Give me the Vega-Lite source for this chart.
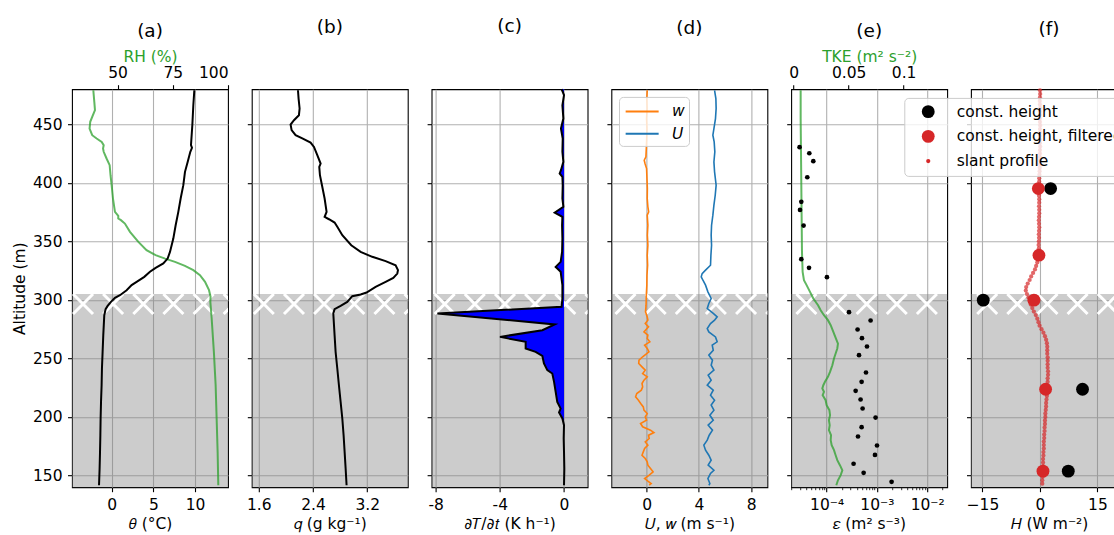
{
  "$schema": "https://vega.github.io/schema/vega-lite/v6.json",
  "background": "white",
  "padding": {"left": 11, "top": 15.2, "right": 0, "bottom": 0},
  "autosize": {"type": "pad"},
  "spacing": 23.8,
  "bounds": "flush",
  "resolve": {"scale": {"color": "independent", "size": "independent"}, "legend": {"color": "independent", "size": "independent"}},
  "config": {
    "font": "DejaVu Sans",
    "view": {"stroke": "black", "strokeWidth": 1.1},
    "axis": {
      "labelFont": "DejaVu Sans", "labelFontSize": 15.5, "labelColor": "black",
      "titleFont": "DejaVu Sans", "titleFontSize": 15.5, "titleFontWeight": "normal", "titleColor": "black",
      "domain": false, "tickColor": "black", "tickSize": 4.5, "tickWidth": 1.1,
      "gridColor": "#b0b0b0", "gridWidth": 1.1, "labelPadding": 5.5
    },
    "axisBottom": {"labelPadding": 6, "titlePadding": 3},
    "axisTop": {"labelPadding": 4, "titlePadding": 1},
    "axisLeft": {"titlePadding": 5},
    "title": {"font": "DejaVu Sans", "fontSize": 18.5, "fontWeight": "normal", "color": "black", "anchor": "middle", "frame": "group", "baseline": "alphabetic"},
    "legend": {"labelFont": "DejaVu Sans", "labelFontSize": 15.5, "labelColor": "black"}
  },
  "datasets": {
    "band": [{"alt": 140, "alt2": 305}],
    "hatch_a": [{"alt": 296.5, "theta": -3.43}, {"alt": 296.5, "theta": 0.18}, {"alt": 296.5, "theta": 3.80}, {"alt": 296.5, "theta": 7.41}, {"alt": 296.5, "theta": 11.03}, {"alt": 296.5, "theta": 14.64}],
    "hatch_b": [{"alt": 296.5, "q": 1.674}, {"alt": 296.5, "q": 2.119}, {"alt": 296.5, "q": 2.563}, {"alt": 296.5, "q": 3.009}, {"alt": 296.5, "q": 3.453}, {"alt": 296.5, "q": 3.897}],
    "hatch_c": [{"alt": 296.5, "dTdt": -7.434}, {"alt": 296.5, "dTdt": -5.558}, {"alt": 296.5, "dTdt": -3.677}, {"alt": 296.5, "dTdt": -1.801}, {"alt": 296.5, "dTdt": 0.080}, {"alt": 296.5, "dTdt": 1.956}],
    "hatch_d": [{"alt": 296.5, "v": -1.612}, {"alt": 296.5, "v": 0.698}, {"alt": 296.5, "v": 2.999}, {"alt": 296.5, "v": 5.302}, {"alt": 296.5, "v": 7.611}, {"alt": 296.5, "v": 9.913}],
    "hatch_e": [{"alt": 296.5, "eps": 3.965e-5}, {"alt": 296.5, "eps": 1.573e-4}, {"alt": 296.5, "eps": 6.268e-4}, {"alt": 296.5, "eps": 2.487e-3}, {"alt": 296.5, "eps": 9.87e-3}],
    "hatch_f": [{"alt": 296.5, "h": -13.77}, {"alt": 296.5, "h": -5.92}, {"alt": 296.5, "h": 1.96}, {"alt": 296.5, "h": 9.81}, {"alt": 296.5, "h": 17.69}],
    "theta": [
      {"alt": 479.1, "theta": 9.92}, {"alt": 466.3, "theta": 9.80}, {"alt": 449.2, "theta": 9.68}, {"alt": 432.2, "theta": 9.52}, {"alt": 429.9, "theta": 9.64}, {"alt": 426.5, "theta": 9.44}, {"alt": 417.9, "theta": 9.12}, {"alt": 409.4, "theta": 8.80}, {"alt": 398.0, "theta": 8.60}, {"alt": 386.6, "theta": 8.28}, {"alt": 375.2, "theta": 8.00}, {"alt": 363.8, "theta": 7.68}, {"alt": 352.4, "theta": 7.40}, {"alt": 341.0, "theta": 7.00}, {"alt": 335.3, "theta": 6.72}, {"alt": 331.1, "theta": 6.20}, {"alt": 327.4, "theta": 5.28}, {"alt": 324.0, "theta": 4.60}, {"alt": 319.7, "theta": 3.92}, {"alt": 315.4, "theta": 3.00}, {"alt": 312.6, "theta": 2.40}, {"alt": 308.3, "theta": 1.80}, {"alt": 304.0, "theta": 1.00}, {"alt": 301.8, "theta": 0.40}, {"alt": 298.3, "theta": -0.08}, {"alt": 294.9, "theta": -0.48}, {"alt": 292.1, "theta": -0.72}, {"alt": 286.9, "theta": -0.88}, {"alt": 269.9, "theta": -1.00}, {"alt": 255.6, "theta": -1.08}, {"alt": 241.4, "theta": -1.16}, {"alt": 227.1, "theta": -1.20}, {"alt": 212.9, "theta": -1.27}, {"alt": 198.7, "theta": -1.32}, {"alt": 184.4, "theta": -1.35}, {"alt": 170.2, "theta": -1.39}, {"alt": 155.9, "theta": -1.44}, {"alt": 141.7, "theta": -1.51}
    ],
    "rh": [
      {"alt": 479.1, "rh": 39.0}, {"alt": 469.2, "rh": 39.45}, {"alt": 462.1, "rh": 39.75}, {"alt": 456.4, "rh": 38.5}, {"alt": 452.1, "rh": 37.6}, {"alt": 446.4, "rh": 37.3}, {"alt": 440.7, "rh": 38.5}, {"alt": 437.9, "rh": 40.5}, {"alt": 435.0, "rh": 42.8}, {"alt": 432.2, "rh": 43.7}, {"alt": 429.3, "rh": 43.4}, {"alt": 426.5, "rh": 43.7}, {"alt": 420.8, "rh": 45.0}, {"alt": 415.1, "rh": 46.4}, {"alt": 406.5, "rh": 46.8}, {"alt": 398.0, "rh": 47.3}, {"alt": 386.6, "rh": 47.9}, {"alt": 375.2, "rh": 48.8}, {"alt": 371.8, "rh": 50.3}, {"alt": 369.5, "rh": 50.3}, {"alt": 368.1, "rh": 51.5}, {"alt": 365.2, "rh": 53.3}, {"alt": 358.1, "rh": 55.6}, {"alt": 349.6, "rh": 59.4}, {"alt": 342.5, "rh": 63.1}, {"alt": 338.2, "rh": 67.2}, {"alt": 335.3, "rh": 71.5}, {"alt": 332.5, "rh": 76.0}, {"alt": 329.1, "rh": 80.5}, {"alt": 325.4, "rh": 84.3}, {"alt": 321.1, "rh": 87.3}, {"alt": 315.4, "rh": 89.6}, {"alt": 308.3, "rh": 91.4}, {"alt": 302.6, "rh": 92.1}, {"alt": 298.3, "rh": 92.0}, {"alt": 284.1, "rh": 92.6}, {"alt": 255.6, "rh": 93.6}, {"alt": 227.1, "rh": 94.4}, {"alt": 198.7, "rh": 94.85}, {"alt": 170.2, "rh": 95.3}, {"alt": 141.7, "rh": 95.6}
    ],
    "q": [
      {"alt": 479.1, "q": 2.178}, {"alt": 472.0, "q": 2.187}, {"alt": 463.5, "q": 2.202}, {"alt": 457.8, "q": 2.192}, {"alt": 453.5, "q": 2.119}, {"alt": 449.8, "q": 2.069}, {"alt": 445.0, "q": 2.084}, {"alt": 440.7, "q": 2.143}, {"alt": 437.9, "q": 2.242}, {"alt": 434.4, "q": 2.364}, {"alt": 430.7, "q": 2.414}, {"alt": 423.6, "q": 2.463}, {"alt": 416.5, "q": 2.512}, {"alt": 413.7, "q": 2.492}, {"alt": 406.5, "q": 2.502}, {"alt": 398.0, "q": 2.532}, {"alt": 386.6, "q": 2.571}, {"alt": 375.2, "q": 2.600}, {"alt": 370.9, "q": 2.571}, {"alt": 368.9, "q": 2.635}, {"alt": 366.1, "q": 2.718}, {"alt": 362.4, "q": 2.758}, {"alt": 355.3, "q": 2.832}, {"alt": 346.7, "q": 2.964}, {"alt": 341.0, "q": 3.102}, {"alt": 336.8, "q": 3.274}, {"alt": 333.1, "q": 3.471}, {"alt": 329.6, "q": 3.618}, {"alt": 325.4, "q": 3.653}, {"alt": 322.5, "q": 3.643}, {"alt": 318.8, "q": 3.584}, {"alt": 315.4, "q": 3.471}, {"alt": 311.1, "q": 3.323}, {"alt": 306.3, "q": 3.190}, {"alt": 304.6, "q": 3.102}, {"alt": 303.2, "q": 2.979}, {"alt": 298.3, "q": 2.905}, {"alt": 294.9, "q": 2.807}, {"alt": 292.1, "q": 2.718}, {"alt": 288.4, "q": 2.699}, {"alt": 269.9, "q": 2.718}, {"alt": 255.6, "q": 2.733}, {"alt": 241.4, "q": 2.758}, {"alt": 227.1, "q": 2.782}, {"alt": 212.9, "q": 2.807}, {"alt": 198.7, "q": 2.832}, {"alt": 184.4, "q": 2.851}, {"alt": 170.2, "q": 2.866}, {"alt": 155.9, "q": 2.881}, {"alt": 141.7, "q": 2.895}
    ],
    "dtdt": [
      {"alt": 480.0, "dTdt": -0.15}, {"alt": 474.9, "dTdt": 0.0}, {"alt": 466.3, "dTdt": -0.10}, {"alt": 454.9, "dTdt": -0.04}, {"alt": 446.4, "dTdt": -0.19}, {"alt": 437.9, "dTdt": -0.08}, {"alt": 426.5, "dTdt": -0.10}, {"alt": 417.9, "dTdt": -0.04}, {"alt": 410.8, "dTdt": -0.19}, {"alt": 408.0, "dTdt": -0.27}, {"alt": 405.1, "dTdt": -0.10}, {"alt": 398.0, "dTdt": -0.08}, {"alt": 386.6, "dTdt": -0.10}, {"alt": 379.5, "dTdt": -0.04}, {"alt": 374.6, "dTdt": -0.58}, {"alt": 370.9, "dTdt": -0.10}, {"alt": 363.8, "dTdt": -0.12}, {"alt": 352.4, "dTdt": -0.10}, {"alt": 341.0, "dTdt": -0.12}, {"alt": 332.5, "dTdt": -0.21}, {"alt": 328.2, "dTdt": -0.52}, {"alt": 324.0, "dTdt": -0.21}, {"alt": 312.6, "dTdt": -0.10}, {"alt": 301.2, "dTdt": -0.10}, {"alt": 294.1, "dTdt": -0.15}, {"alt": 288.4, "dTdt": -7.89}, {"alt": 279.0, "dTdt": -0.58}, {"alt": 274.1, "dTdt": -1.35}, {"alt": 268.4, "dTdt": -3.99}, {"alt": 264.2, "dTdt": -2.39}, {"alt": 258.5, "dTdt": -2.39}, {"alt": 255.6, "dTdt": -1.77}, {"alt": 252.2, "dTdt": -1.35}, {"alt": 245.7, "dTdt": -1.25}, {"alt": 240.0, "dTdt": -1.04}, {"alt": 237.1, "dTdt": -0.73}, {"alt": 230.0, "dTdt": -0.62}, {"alt": 221.4, "dTdt": -0.52}, {"alt": 212.9, "dTdt": -0.42}, {"alt": 207.2, "dTdt": -0.21}, {"alt": 203.8, "dTdt": -0.31}, {"alt": 198.7, "dTdt": -0.10}, {"alt": 193.0, "dTdt": 0.0}, {"alt": 181.6, "dTdt": -0.02}, {"alt": 170.2, "dTdt": 0.0}, {"alt": 155.9, "dTdt": 0.02}, {"alt": 141.7, "dTdt": 0.0}
    ],
    "wind": [
      {"alt": 479.1, "v": 0.05, "s": "w"}, {"alt": 472.0, "v": 0.02, "s": "w"}, {"alt": 463.5, "v": 0.04, "s": "w"}, {"alt": 454.9, "v": 0.0, "s": "w"}, {"alt": 446.4, "v": 0.03, "s": "w"}, {"alt": 437.9, "v": 0.01, "s": "w"}, {"alt": 429.3, "v": -0.02, "s": "w"}, {"alt": 422.2, "v": -0.05, "s": "w"}, {"alt": 419.3, "v": -0.18, "s": "w"}, {"alt": 416.5, "v": -0.12, "s": "w"}, {"alt": 412.2, "v": 0.0, "s": "w"}, {"alt": 403.7, "v": 0.03, "s": "w"}, {"alt": 395.1, "v": 0.06, "s": "w"}, {"alt": 386.6, "v": 0.05, "s": "w"}, {"alt": 379.5, "v": 0.10, "s": "w"}, {"alt": 375.2, "v": 0.16, "s": "w"}, {"alt": 372.4, "v": 0.05, "s": "w"}, {"alt": 363.8, "v": 0.10, "s": "w"}, {"alt": 355.3, "v": 0.06, "s": "w"}, {"alt": 346.7, "v": 0.10, "s": "w"}, {"alt": 338.2, "v": 0.05, "s": "w"}, {"alt": 329.6, "v": 0.08, "s": "w"}, {"alt": 321.1, "v": 0.03, "s": "w"}, {"alt": 312.6, "v": 0.02, "s": "w"}, {"alt": 304.0, "v": -0.02, "s": "w"}, {"alt": 295.5, "v": -0.04, "s": "w"}, {"alt": 289.8, "v": -0.08, "s": "w"}, {"alt": 285.5, "v": 0.05, "s": "w"}, {"alt": 282.7, "v": 0.10, "s": "w"}, {"alt": 279.8, "v": -0.10, "s": "w"}, {"alt": 277.0, "v": 0.15, "s": "w"}, {"alt": 272.7, "v": -0.20, "s": "w"}, {"alt": 269.9, "v": 0.10, "s": "w"}, {"alt": 267.0, "v": 0.05, "s": "w"}, {"alt": 264.2, "v": 0.25, "s": "w"}, {"alt": 261.3, "v": -0.15, "s": "w"}, {"alt": 258.5, "v": 0.05, "s": "w"}, {"alt": 255.6, "v": 0.18, "s": "w"}, {"alt": 251.4, "v": -0.30, "s": "w"}, {"alt": 248.5, "v": -0.58, "s": "w"}, {"alt": 245.7, "v": -0.60, "s": "w"}, {"alt": 242.8, "v": -0.35, "s": "w"}, {"alt": 240.0, "v": -0.10, "s": "w"}, {"alt": 237.1, "v": -0.30, "s": "w"}, {"alt": 234.3, "v": 0.05, "s": "w"}, {"alt": 231.4, "v": -0.20, "s": "w"}, {"alt": 228.6, "v": -0.35, "s": "w"}, {"alt": 225.7, "v": -0.30, "s": "w"}, {"alt": 222.9, "v": -0.40, "s": "w"}, {"alt": 220.0, "v": -0.75, "s": "w"}, {"alt": 217.2, "v": -0.84, "s": "w"}, {"alt": 214.3, "v": -0.62, "s": "w"}, {"alt": 211.5, "v": -0.45, "s": "w"}, {"alt": 208.6, "v": -0.25, "s": "w"}, {"alt": 205.8, "v": -0.20, "s": "w"}, {"alt": 202.9, "v": 0.05, "s": "w"}, {"alt": 200.1, "v": -0.10, "s": "w"}, {"alt": 197.2, "v": 0.0, "s": "w"}, {"alt": 194.4, "v": -0.46, "s": "w"}, {"alt": 191.6, "v": -0.30, "s": "w"}, {"alt": 188.7, "v": 0.30, "s": "w"}, {"alt": 186.7, "v": 0.56, "s": "w"}, {"alt": 184.4, "v": 0.15, "s": "w"}, {"alt": 181.6, "v": 0.20, "s": "w"}, {"alt": 178.7, "v": -0.10, "s": "w"}, {"alt": 175.9, "v": 0.10, "s": "w"}, {"alt": 173.0, "v": -0.15, "s": "w"}, {"alt": 170.2, "v": -0.25, "s": "w"}, {"alt": 167.3, "v": -0.35, "s": "w"}, {"alt": 164.5, "v": -0.10, "s": "w"}, {"alt": 161.7, "v": 0.05, "s": "w"}, {"alt": 158.8, "v": 0.10, "s": "w"}, {"alt": 155.9, "v": 0.30, "s": "w"}, {"alt": 153.1, "v": 0.50, "s": "w"}, {"alt": 150.3, "v": 0.20, "s": "w"}, {"alt": 147.4, "v": -0.15, "s": "w"}, {"alt": 145.1, "v": 0.10, "s": "w"}, {"alt": 143.1, "v": 0.35, "s": "w"}, {"alt": 141.7, "v": 0.20, "s": "w"},
      {"alt": 479.1, "v": 5.20, "s": "U"}, {"alt": 472.0, "v": 5.30, "s": "U"}, {"alt": 463.5, "v": 5.32, "s": "U"}, {"alt": 454.9, "v": 5.27, "s": "U"}, {"alt": 446.4, "v": 5.15, "s": "U"}, {"alt": 440.7, "v": 5.07, "s": "U"}, {"alt": 435.0, "v": 5.17, "s": "U"}, {"alt": 426.5, "v": 5.22, "s": "U"}, {"alt": 417.9, "v": 5.15, "s": "U"}, {"alt": 409.4, "v": 5.20, "s": "U"}, {"alt": 398.0, "v": 5.32, "s": "U"}, {"alt": 389.4, "v": 5.25, "s": "U"}, {"alt": 380.9, "v": 5.15, "s": "U"}, {"alt": 372.4, "v": 5.07, "s": "U"}, {"alt": 363.8, "v": 4.97, "s": "U"}, {"alt": 355.3, "v": 4.94, "s": "U"}, {"alt": 346.7, "v": 4.97, "s": "U"}, {"alt": 338.2, "v": 4.92, "s": "U"}, {"alt": 329.6, "v": 4.89, "s": "U"}, {"alt": 325.4, "v": 4.51, "s": "U"}, {"alt": 322.5, "v": 4.25, "s": "U"}, {"alt": 319.7, "v": 4.18, "s": "U"}, {"alt": 316.8, "v": 4.31, "s": "U"}, {"alt": 312.6, "v": 4.51, "s": "U"}, {"alt": 306.9, "v": 4.69, "s": "U"}, {"alt": 301.2, "v": 4.94, "s": "U"}, {"alt": 296.9, "v": 4.76, "s": "U"}, {"alt": 292.6, "v": 4.64, "s": "U"}, {"alt": 288.4, "v": 5.10, "s": "U"}, {"alt": 285.5, "v": 5.40, "s": "U"}, {"alt": 282.7, "v": 5.20, "s": "U"}, {"alt": 279.8, "v": 4.89, "s": "U"}, {"alt": 275.5, "v": 4.64, "s": "U"}, {"alt": 272.7, "v": 4.76, "s": "U"}, {"alt": 268.4, "v": 5.27, "s": "U"}, {"alt": 264.2, "v": 5.40, "s": "U"}, {"alt": 261.3, "v": 5.02, "s": "U"}, {"alt": 257.0, "v": 5.10, "s": "U"}, {"alt": 252.8, "v": 4.76, "s": "U"}, {"alt": 248.5, "v": 5.04, "s": "U"}, {"alt": 244.2, "v": 4.94, "s": "U"}, {"alt": 240.0, "v": 5.15, "s": "U"}, {"alt": 235.7, "v": 4.71, "s": "U"}, {"alt": 231.4, "v": 4.94, "s": "U"}, {"alt": 227.1, "v": 4.64, "s": "U"}, {"alt": 222.9, "v": 5.10, "s": "U"}, {"alt": 218.6, "v": 4.89, "s": "U"}, {"alt": 214.3, "v": 5.20, "s": "U"}, {"alt": 210.1, "v": 4.94, "s": "U"}, {"alt": 205.8, "v": 5.15, "s": "U"}, {"alt": 201.5, "v": 4.84, "s": "U"}, {"alt": 197.2, "v": 5.10, "s": "U"}, {"alt": 193.0, "v": 4.71, "s": "U"}, {"alt": 188.7, "v": 5.04, "s": "U"}, {"alt": 184.4, "v": 4.79, "s": "U"}, {"alt": 180.2, "v": 4.64, "s": "U"}, {"alt": 175.9, "v": 4.38, "s": "U"}, {"alt": 171.6, "v": 4.51, "s": "U"}, {"alt": 167.3, "v": 4.76, "s": "U"}, {"alt": 163.1, "v": 4.94, "s": "U"}, {"alt": 158.8, "v": 4.71, "s": "U"}, {"alt": 154.5, "v": 5.15, "s": "U"}, {"alt": 151.7, "v": 4.89, "s": "U"}, {"alt": 147.4, "v": 4.69, "s": "U"}, {"alt": 143.1, "v": 4.84, "s": "U"}, {"alt": 141.7, "v": 4.76, "s": "U"}
    ],
    "tke": [
      {"alt": 479.1, "tke": 0.0064}, {"alt": 454.9, "tke": 0.0064}, {"alt": 426.5, "tke": 0.0067}, {"alt": 398.0, "tke": 0.0070}, {"alt": 369.5, "tke": 0.0073}, {"alt": 341.0, "tke": 0.0076}, {"alt": 324.0, "tke": 0.0082}, {"alt": 316.8, "tke": 0.0094}, {"alt": 312.6, "tke": 0.0118}, {"alt": 306.9, "tke": 0.0149}, {"alt": 301.2, "tke": 0.0179}, {"alt": 295.5, "tke": 0.0222}, {"alt": 291.2, "tke": 0.0246}, {"alt": 286.9, "tke": 0.0276}, {"alt": 282.7, "tke": 0.0312}, {"alt": 278.4, "tke": 0.0337}, {"alt": 272.7, "tke": 0.0361}, {"alt": 267.0, "tke": 0.0385}, {"alt": 262.7, "tke": 0.0403}, {"alt": 258.5, "tke": 0.0397}, {"alt": 254.2, "tke": 0.0382}, {"alt": 249.9, "tke": 0.0367}, {"alt": 244.2, "tke": 0.0352}, {"alt": 238.5, "tke": 0.0331}, {"alt": 234.3, "tke": 0.0312}, {"alt": 230.0, "tke": 0.0285}, {"alt": 227.1, "tke": 0.0270}, {"alt": 224.3, "tke": 0.0261}, {"alt": 221.4, "tke": 0.0276}, {"alt": 218.6, "tke": 0.0264}, {"alt": 214.3, "tke": 0.0291}, {"alt": 210.1, "tke": 0.0300}, {"alt": 205.8, "tke": 0.0325}, {"alt": 201.5, "tke": 0.0331}, {"alt": 197.2, "tke": 0.0321}, {"alt": 193.0, "tke": 0.0328}, {"alt": 188.7, "tke": 0.0321}, {"alt": 184.4, "tke": 0.0340}, {"alt": 180.2, "tke": 0.0337}, {"alt": 175.9, "tke": 0.0346}, {"alt": 171.6, "tke": 0.0367}, {"alt": 167.3, "tke": 0.0382}, {"alt": 163.1, "tke": 0.0397}, {"alt": 158.8, "tke": 0.0421}, {"alt": 154.5, "tke": 0.0443}, {"alt": 150.3, "tke": 0.0428}, {"alt": 145.9, "tke": 0.0403}, {"alt": 141.7, "tke": 0.0388}
    ],
    "eps": [
      {"alt": 430.5, "eps": 2.90e-5}, {"alt": 425.3, "eps": 4.53e-5}, {"alt": 418.5, "eps": 5.44e-5}, {"alt": 404.8, "eps": 4.13e-5}, {"alt": 383.8, "eps": 3.14e-5}, {"alt": 376.9, "eps": 2.96e-5}, {"alt": 363.5, "eps": 3.49e-5}, {"alt": 334.8, "eps": 3.14e-5}, {"alt": 327.4, "eps": 4.47e-5}, {"alt": 319.4, "eps": 1.016e-4}, {"alt": 289.5, "eps": 2.79e-4}, {"alt": 282.4, "eps": 7.50e-4}, {"alt": 274.7, "eps": 4.13e-4}, {"alt": 267.3, "eps": 5.05e-4}, {"alt": 260.2, "eps": 6.35e-4}, {"alt": 252.8, "eps": 4.41e-4}, {"alt": 238.0, "eps": 6.07e-4}, {"alt": 230.0, "eps": 4.97e-4}, {"alt": 222.3, "eps": 3.78e-4}, {"alt": 214.9, "eps": 4.74e-4}, {"alt": 207.2, "eps": 5.20e-4}, {"alt": 199.5, "eps": 9.42e-4}, {"alt": 191.3, "eps": 4.97e-4}, {"alt": 183.3, "eps": 4.21e-4}, {"alt": 175.6, "eps": 1.005e-3}, {"alt": 167.6, "eps": 9.16e-4}, {"alt": 160.0, "eps": 3.44e-4}, {"alt": 152.3, "eps": 5.45e-4}, {"alt": 144.6, "eps": 1.96e-3}
    ],
    "flux": [
      {"alt": 479, "h": 0.0, "kind": "slant profile"}, {"alt": 476, "h": 0.05, "kind": "slant profile"}, {"alt": 473, "h": 0.0, "kind": "slant profile"}, {"alt": 470, "h": -0.05, "kind": "slant profile"}, {"alt": 467, "h": 0.0, "kind": "slant profile"}, {"alt": 464, "h": 0.05, "kind": "slant profile"}, {"alt": 461, "h": 0.0, "kind": "slant profile"}, {"alt": 458, "h": 0.0, "kind": "slant profile"}, {"alt": 455, "h": -0.05, "kind": "slant profile"}, {"alt": 452, "h": 0.0, "kind": "slant profile"}, {"alt": 449, "h": 0.05, "kind": "slant profile"}, {"alt": 446, "h": 0.0, "kind": "slant profile"}, {"alt": 443, "h": 0.0, "kind": "slant profile"}, {"alt": 440, "h": -0.05, "kind": "slant profile"}, {"alt": 437, "h": 0.0, "kind": "slant profile"}, {"alt": 434, "h": 0.0, "kind": "slant profile"}, {"alt": 431, "h": 0.05, "kind": "slant profile"}, {"alt": 428, "h": 0.0, "kind": "slant profile"}, {"alt": 425, "h": 0.0, "kind": "slant profile"}, {"alt": 422, "h": -0.05, "kind": "slant profile"}, {"alt": 419, "h": 0.0, "kind": "slant profile"}, {"alt": 416, "h": 0.0, "kind": "slant profile"}, {"alt": 413, "h": -0.05, "kind": "slant profile"}, {"alt": 410, "h": -0.1, "kind": "slant profile"}, {"alt": 407, "h": -0.15, "kind": "slant profile"}, {"alt": 404, "h": -0.2, "kind": "slant profile"}, {"alt": 401, "h": -0.2, "kind": "slant profile"}, {"alt": 398, "h": -0.25, "kind": "slant profile"}, {"alt": 395, "h": -0.2, "kind": "slant profile"}, {"alt": 392, "h": -0.2, "kind": "slant profile"}, {"alt": 389, "h": -0.25, "kind": "slant profile"}, {"alt": 386, "h": -0.2, "kind": "slant profile"}, {"alt": 383, "h": -0.2, "kind": "slant profile"}, {"alt": 380, "h": -0.25, "kind": "slant profile"}, {"alt": 377, "h": -0.2, "kind": "slant profile"}, {"alt": 374, "h": -0.2, "kind": "slant profile"}, {"alt": 371, "h": -0.25, "kind": "slant profile"}, {"alt": 368, "h": -0.3, "kind": "slant profile"}, {"alt": 365, "h": -0.25, "kind": "slant profile"}, {"alt": 362, "h": -0.2, "kind": "slant profile"}, {"alt": 359, "h": -0.25, "kind": "slant profile"}, {"alt": 356, "h": -0.3, "kind": "slant profile"}, {"alt": 353, "h": -0.25, "kind": "slant profile"}, {"alt": 350, "h": -0.3, "kind": "slant profile"}, {"alt": 347, "h": -0.35, "kind": "slant profile"}, {"alt": 344, "h": -0.3, "kind": "slant profile"}, {"alt": 341, "h": -0.35, "kind": "slant profile"}, {"alt": 338, "h": -0.4, "kind": "slant profile"}, {"alt": 335, "h": -0.5, "kind": "slant profile"}, {"alt": 332, "h": -0.7, "kind": "slant profile"}, {"alt": 329, "h": -1.0, "kind": "slant profile"}, {"alt": 326, "h": -1.3, "kind": "slant profile"}, {"alt": 323, "h": -1.8, "kind": "slant profile"}, {"alt": 320, "h": -2.3, "kind": "slant profile"}, {"alt": 317, "h": -2.7, "kind": "slant profile"}, {"alt": 314, "h": -3.2, "kind": "slant profile"}, {"alt": 311, "h": -3.6, "kind": "slant profile"}, {"alt": 308, "h": -3.7, "kind": "slant profile"}, {"alt": 305, "h": -3.4, "kind": "slant profile"}, {"alt": 302, "h": -3.0, "kind": "slant profile"}, {"alt": 299, "h": -2.7, "kind": "slant profile"}, {"alt": 296, "h": -2.4, "kind": "slant profile"}, {"alt": 293, "h": -2.0, "kind": "slant profile"}, {"alt": 290, "h": -1.6, "kind": "slant profile"}, {"alt": 287, "h": -1.1, "kind": "slant profile"}, {"alt": 284, "h": -0.7, "kind": "slant profile"}, {"alt": 281, "h": -0.4, "kind": "slant profile"}, {"alt": 278, "h": -0.1, "kind": "slant profile"}, {"alt": 275, "h": 0.4, "kind": "slant profile"}, {"alt": 272, "h": 0.9, "kind": "slant profile"}, {"alt": 269, "h": 1.3, "kind": "slant profile"}, {"alt": 266, "h": 1.6, "kind": "slant profile"}, {"alt": 263, "h": 1.8, "kind": "slant profile"}, {"alt": 260, "h": 1.9, "kind": "slant profile"}, {"alt": 257, "h": 1.9, "kind": "slant profile"}, {"alt": 254, "h": 1.9, "kind": "slant profile"}, {"alt": 251, "h": 2.0, "kind": "slant profile"}, {"alt": 248, "h": 2.0, "kind": "slant profile"}, {"alt": 245, "h": 2.0, "kind": "slant profile"}, {"alt": 242, "h": 2.0, "kind": "slant profile"}, {"alt": 239, "h": 2.1, "kind": "slant profile"}, {"alt": 236, "h": 2.1, "kind": "slant profile"}, {"alt": 233, "h": 2.0, "kind": "slant profile"}, {"alt": 230, "h": 2.0, "kind": "slant profile"}, {"alt": 227, "h": 2.0, "kind": "slant profile"}, {"alt": 224, "h": 1.9, "kind": "slant profile"}, {"alt": 221, "h": 1.9, "kind": "slant profile"}, {"alt": 218, "h": 1.8, "kind": "slant profile"}, {"alt": 215, "h": 1.7, "kind": "slant profile"}, {"alt": 212, "h": 1.6, "kind": "slant profile"}, {"alt": 209, "h": 1.6, "kind": "slant profile"}, {"alt": 206, "h": 1.5, "kind": "slant profile"}, {"alt": 203, "h": 1.4, "kind": "slant profile"}, {"alt": 200, "h": 1.4, "kind": "slant profile"}, {"alt": 197, "h": 1.3, "kind": "slant profile"}, {"alt": 194, "h": 1.3, "kind": "slant profile"}, {"alt": 191, "h": 1.2, "kind": "slant profile"}, {"alt": 188, "h": 1.2, "kind": "slant profile"}, {"alt": 185, "h": 1.1, "kind": "slant profile"}, {"alt": 182, "h": 1.1, "kind": "slant profile"}, {"alt": 179, "h": 1.0, "kind": "slant profile"}, {"alt": 176, "h": 1.0, "kind": "slant profile"}, {"alt": 173, "h": 1.0, "kind": "slant profile"}, {"alt": 170, "h": 0.9, "kind": "slant profile"}, {"alt": 167, "h": 0.9, "kind": "slant profile"}, {"alt": 164, "h": 0.8, "kind": "slant profile"}, {"alt": 161, "h": 0.8, "kind": "slant profile"}, {"alt": 158, "h": 0.8, "kind": "slant profile"}, {"alt": 155, "h": 0.7, "kind": "slant profile"}, {"alt": 152, "h": 0.7, "kind": "slant profile"}, {"alt": 149, "h": 0.7, "kind": "slant profile"}, {"alt": 146, "h": 0.6, "kind": "slant profile"}, {"alt": 143, "h": 0.6, "kind": "slant profile"},
      {"alt": 395.1, "h": 2.77, "kind": "const. height"}, {"alt": 299.8, "h": -14.8, "kind": "const. height"}, {"alt": 223.7, "h": 11.1, "kind": "const. height"}, {"alt": 153.7, "h": 7.38, "kind": "const. height"},
      {"alt": 395.1, "h": -0.43, "kind": "const. height, filtered"}, {"alt": 338.2, "h": -0.27, "kind": "const. height, filtered"}, {"alt": 299.8, "h": -1.57, "kind": "const. height, filtered"}, {"alt": 223.7, "h": 1.47, "kind": "const. height, filtered"}, {"alt": 153.7, "h": 0.78, "kind": "const. height, filtered"}
    ]
  },
  "hconcat": [
    {
      "width": 156, "height": 398,
      "title": {"text": "(a)", "offset": 9.5},
      "encoding": {"y": {"field": "alt", "type": "quantitative", "scale": {"domain": [140, 480], "nice": false, "zero": false}, "axis": {"values": [150, 200, 250, 300, 350, 400, 450], "title": "Altitude (m)", "grid": true}}},
      "layer": [
        {"data": {"name": "band"}, "mark": {"type": "rect", "color": "#808080", "opacity": 0.4}, "encoding": {"y2": {"field": "alt2"}}},
        {"data": {"name": "hatch_a"}, "mark": {"type": "point", "shape": "M-1,-1L1,1M-1,1L1,-1", "size": 400, "filled": false, "color": "white", "strokeWidth": 3, "opacity": 1, "clip": true},
         "encoding": {"x": {"field": "theta", "type": "quantitative", "scale": {"domain": [-4.75, 13.96], "nice": false, "zero": false}, "axis": null}}},
        {"data": {"name": "rh"}, "mark": {"type": "line", "color": "#2ca02c", "opacity": 0.75, "strokeWidth": 2},
         "encoding": {"x": {"field": "rh", "type": "quantitative", "scale": {"domain": [29.35, 100], "nice": false, "zero": false}, "axis": {"orient": "top", "values": [50, 75, 100], "format": "d", "grid": false, "title": "RH (%)", "titleColor": "#2ca02c"}}, "order": {"field": "alt", "type": "quantitative"}}},
        {"data": {"name": "theta"}, "mark": {"type": "line", "color": "black", "strokeWidth": 2},
         "encoding": {"x": {"field": "theta", "type": "quantitative", "scale": {"domain": [-4.75, 13.96], "nice": false, "zero": false}, "axis": {"orient": "bottom", "values": [0, 5, 10], "format": "d", "grid": true, "title": "𝜃 (°C)"}}, "order": {"field": "alt", "type": "quantitative"}}}
      ],
      "resolve": {"scale": {"x": "independent"}, "axis": {"x": "independent"}}
    },
    {
      "width": 156, "height": 398,
      "title": {"text": "(b)", "offset": 50},
      "encoding": {"y": {"field": "alt", "type": "quantitative", "scale": {"domain": [140, 480], "nice": false, "zero": false}, "axis": {"values": [150, 200, 250, 300, 350, 400, 450], "labels": false, "title": null, "grid": true}}},
      "layer": [
        {"data": {"name": "band"}, "mark": {"type": "rect", "color": "#808080", "opacity": 0.4}, "encoding": {"y2": {"field": "alt2"}}},
        {"data": {"name": "hatch_b"}, "mark": {"type": "point", "shape": "M-1,-1L1,1M-1,1L1,-1", "size": 400, "filled": false, "color": "white", "strokeWidth": 3, "opacity": 1, "clip": true},
         "encoding": {"x": {"field": "q", "type": "quantitative", "scale": {"domain": [1.497, 3.798], "nice": false, "zero": false}}}},
        {"data": {"name": "q"}, "mark": {"type": "line", "color": "black", "strokeWidth": 2},
         "encoding": {"x": {"field": "q", "type": "quantitative", "scale": {"domain": [1.497, 3.798], "nice": false, "zero": false}, "axis": {"values": [1.6, 2.4, 3.2], "format": ".1f", "grid": true, "title": "𝑞 (g kg⁻¹)"}}, "order": {"field": "alt", "type": "quantitative"}}}
      ]
    },
    {
      "width": 156, "height": 398,
      "title": {"text": "(c)", "offset": 50},
      "encoding": {"y": {"field": "alt", "type": "quantitative", "scale": {"domain": [140, 480], "nice": false, "zero": false}, "axis": {"values": [150, 200, 250, 300, 350, 400, 450], "labels": false, "title": null, "grid": true}}},
      "layer": [
        {"data": {"name": "band"}, "mark": {"type": "rect", "color": "#808080", "opacity": 0.4}, "encoding": {"y2": {"field": "alt2"}}},
        {"data": {"name": "hatch_c"}, "mark": {"type": "point", "shape": "M-1,-1L1,1M-1,1L1,-1", "size": 400, "filled": false, "color": "white", "strokeWidth": 3, "opacity": 1, "clip": true},
         "encoding": {"x": {"field": "dTdt", "type": "quantitative", "scale": {"domain": [-8.25, 1.47], "nice": false, "zero": false}}}},
        {"data": {"name": "dtdt"}, "mark": {"type": "area", "orient": "horizontal", "color": "#0000ff", "opacity": 1},
         "encoding": {"x": {"field": "dTdt", "type": "quantitative", "stack": null, "scale": {"domain": [-8.25, 1.47], "nice": false, "zero": false}, "axis": {"values": [-8, -4, 0], "format": "d", "labelExpr": "replace(datum.label, '−', '-')", "grid": true, "title": "∂𝑇/∂𝑡 (K h⁻¹)"}}, "x2": {"datum": 0}}},
        {"data": {"name": "dtdt"}, "mark": {"type": "line", "color": "black", "strokeWidth": 2},
         "encoding": {"x": {"field": "dTdt", "type": "quantitative", "scale": {"domain": [-8.25, 1.47], "nice": false, "zero": false}}, "order": {"field": "alt", "type": "quantitative"}}}
      ]
    },
    {
      "width": 156, "height": 398,
      "title": {"text": "(d)", "offset": 50},
      "encoding": {"y": {"field": "alt", "type": "quantitative", "scale": {"domain": [140, 480], "nice": false, "zero": false}, "axis": {"values": [150, 200, 250, 300, 350, 400, 450], "labels": false, "title": null, "grid": true}}},
      "layer": [
        {"data": {"name": "band"}, "mark": {"type": "rect", "color": "#808080", "opacity": 0.4}, "encoding": {"y2": {"field": "alt2"}}},
        {"data": {"name": "hatch_d"}, "mark": {"type": "point", "shape": "M-1,-1L1,1M-1,1L1,-1", "size": 400, "filled": false, "color": "white", "strokeWidth": 3, "opacity": 1, "clip": true},
         "encoding": {"x": {"field": "v", "type": "quantitative", "scale": {"domain": [-2.69, 9.24], "nice": false, "zero": false}}}},
        {"data": {"name": "wind"}, "mark": {"type": "line", "strokeWidth": 1.6},
         "encoding": {
           "x": {"field": "v", "type": "quantitative", "scale": {"domain": [-2.69, 9.24], "nice": false, "zero": false}, "axis": {"values": [0, 4, 8], "format": "d", "grid": true, "title": "𝑈, 𝑤 (m s⁻¹)"}},
           "color": {"field": "s", "type": "nominal", "scale": {"domain": ["w", "U"], "range": ["#ff7f0e", "#1f77b4"]},
             "legend": {"title": null, "orient": "none", "legendX": 7.6, "legendY": 7.7, "fillColor": "rgba(255,255,255,0.8)", "strokeColor": "#cccccc", "cornerRadius": 4, "padding": 3.5,
               "symbolType": "M-1.65,0H1.65", "symbolSize": 400, "symbolStrokeWidth": 2, "symbolOffset": 8.65, "labelOffset": 18.8, "rowPadding": 2.3, "labelFontStyle": "italic", "labelFontSize": 15.5}},
           "order": {"field": "alt", "type": "quantitative"}}}
      ]
    },
    {
      "width": 156, "height": 398,
      "title": {"text": "(e)", "offset": 9.5},
      "encoding": {"y": {"field": "alt", "type": "quantitative", "scale": {"domain": [140, 480], "nice": false, "zero": false}, "axis": {"values": [150, 200, 250, 300, 350, 400, 450], "labels": false, "title": null, "grid": true}}},
      "layer": [
        {"data": {"name": "band"}, "mark": {"type": "rect", "color": "#808080", "opacity": 0.4}, "encoding": {"y2": {"field": "alt2"}}},
        {"data": {"name": "hatch_e"}, "mark": {"type": "point", "shape": "M-1,-1L1,1M-1,1L1,-1", "size": 400, "filled": false, "color": "white", "strokeWidth": 3, "opacity": 1, "clip": true},
         "encoding": {"x": {"field": "eps", "type": "quantitative", "scale": {"type": "log", "domain": [1.977e-5, 0.025], "nice": false}, "axis": null}}},
        {"data": {"name": "tke"}, "mark": {"type": "line", "color": "#2ca02c", "opacity": 0.75, "strokeWidth": 2},
         "encoding": {"x": {"field": "tke", "type": "quantitative", "scale": {"domain": [-0.0022, 0.1396], "nice": false, "zero": false}, "axis": {"orient": "top", "values": [0, 0.05, 0.1], "format": "~g", "grid": false, "title": "TKE (m² s⁻²)", "titleColor": "#2ca02c"}}, "order": {"field": "alt", "type": "quantitative"}}},
        {"data": {"name": "eps"}, "mark": {"type": "circle", "color": "black", "size": 22, "opacity": 1},
         "encoding": {"x": {"field": "eps", "type": "quantitative", "scale": {"type": "log", "domain": [1.977e-5, 0.025], "nice": false},
           "axis": {"orient": "bottom", "grid": true, "title": "𝜀 (m² s⁻³)", "labelOverlap": false,
             "values": [2e-5, 3e-5, 4e-5, 5e-5, 6e-5, 7e-5, 8e-5, 9e-5, 1e-4, 2e-4, 3e-4, 4e-4, 5e-4, 6e-4, 7e-4, 8e-4, 9e-4, 1e-3, 2e-3, 3e-3, 4e-3, 5e-3, 6e-3, 7e-3, 8e-3, 9e-3, 1e-2, 2e-2],
             "labelExpr": "abs(datum.value - 1e-4) < 1e-9 ? '10⁻⁴' : abs(datum.value - 1e-3) < 1e-8 ? '10⁻³' : abs(datum.value - 1e-2) < 1e-7 ? '10⁻²' : ''",
             "tickSize": {"condition": {"test": "abs(log(datum.value) / LN10 - round(log(datum.value) / LN10)) < 0.001", "value": 4.5}, "value": 2.5},
             "tickWidth": {"condition": {"test": "abs(log(datum.value) / LN10 - round(log(datum.value) / LN10)) < 0.001", "value": 1.1}, "value": 0.8},
             "gridOpacity": {"condition": {"test": "abs(log(datum.value) / LN10 - round(log(datum.value) / LN10)) < 0.001", "value": 1}, "value": 0}}}}}
      ],
      "resolve": {"scale": {"x": "independent"}, "axis": {"x": "independent"}}
    },
    {
      "width": 156, "height": 398,
      "title": {"text": "(f)", "offset": 50},
      "encoding": {"y": {"field": "alt", "type": "quantitative", "scale": {"domain": [140, 480], "nice": false, "zero": false}, "axis": {"values": [150, 200, 250, 300, 350, 400, 450], "labels": false, "title": null, "grid": true}}},
      "layer": [
        {"data": {"name": "band"}, "mark": {"type": "rect", "color": "#808080", "opacity": 0.4}, "encoding": {"y2": {"field": "alt2"}}},
        {"data": {"name": "hatch_f"}, "mark": {"type": "point", "shape": "M-1,-1L1,1M-1,1L1,-1", "size": 400, "filled": false, "color": "white", "strokeWidth": 3, "opacity": 1, "clip": true},
         "encoding": {"x": {"field": "h", "type": "quantitative", "scale": {"domain": [-18, 22.7], "nice": false, "zero": false}}}},
        {"data": {"name": "flux"}, "mark": {"type": "circle"},
         "encoding": {
           "x": {"field": "h", "type": "quantitative", "scale": {"domain": [-18, 22.7], "nice": false, "zero": false}, "axis": {"values": [-15, 0, 15], "format": "d", "grid": true, "title": "𝐻 (W m⁻²)"}},
           "color": {"field": "kind", "type": "nominal", "scale": {"domain": ["const. height", "const. height, filtered", "slant profile"], "range": ["black", "#d62728", "#d62728"]},
             "legend": {"title": null, "orient": "none", "legendX": -66.7, "legendY": 8.7, "fillColor": "rgba(255,255,255,0.8)", "strokeColor": "#cccccc", "cornerRadius": 4, "padding": 6,
               "symbolOffset": 10.2, "labelOffset": 20.7, "rowPadding": 7.7, "symbolStrokeWidth": 0, "symbolOpacity": 1, "labelLimit": 400, "labelFontSize": 15.5}},
           "size": {"field": "kind", "type": "nominal", "scale": {"type": "ordinal", "domain": ["const. height", "const. height, filtered", "slant profile"], "range": [165, 165, 18]}},
           "opacity": {"condition": {"test": "datum.kind === 'slant profile'", "value": 0.7}, "value": 1}}}
      ]
    }
  ]
}
